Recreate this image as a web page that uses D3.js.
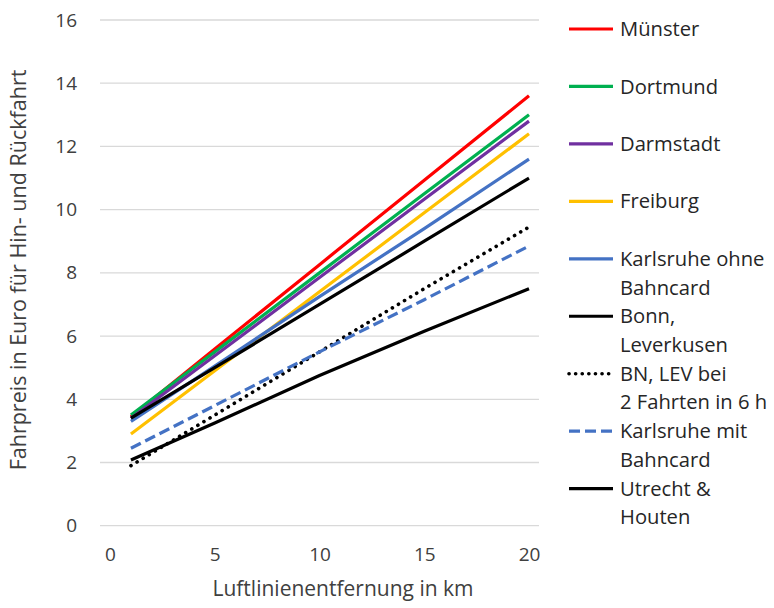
<!DOCTYPE html>
<meta charset="utf-8">
<title>Fahrpreise</title>
<style>
  html, body { margin: 0; padding: 0; background: #fff; }
  svg { display: block; font-family: "Open Sans", Lato, sans-serif; }
  .grid line { stroke: #d9d9d9; stroke-width: 1.3px; }
  .axis text { fill: #404040; font-size: 19px; font-family: "Open Sans", Lato, sans-serif; }
  .legend text { fill: #262626; font-size: 20.2px; }
  .line { fill: none; stroke-width: 3.2px; stroke-linejoin: round; }
</style>
<body>
<script src="https://d3js.org/d3.v7.min.js"></script>
<script>

// data: distance in km and price in euro for the return trip
var km = [1, 5, 10, 15, 20];

var muenster   = [3.45, 5.59, 8.26, 10.93, 13.6];
var dortmund   = [3.5, 5.5, 8.0, 10.5, 13.0];
var darmstadt  = [3.4, 5.38, 7.85, 10.33, 12.8];
var freiburg   = [2.9, 4.9, 7.4, 9.9, 12.4];
var karlsOhne  = [3.3, 5.05, 7.25, 9.4, 11.6];
var bonnLev    = [3.4, 5.0, 7.0, 9.0, 11.0];
var bnLev2     = [1.9, 3.5, 5.5, 7.5, 9.45];
var karlsMit   = [2.45, 3.8, 5.5, 7.15, 8.85];
var utrecht    = [2.08, 3.25, 4.75, 6.15, 7.5];

var names = ["Münster", "Dortmund", "Darmstadt", "Freiburg", "Karlsruhe ohne\nBahncard",
             "Bonn,\nLeverkusen", "BN, LEV bei\n2 Fahrten in 6 h", "Karlsruhe mit\nBahncard",
             "Utrecht &\nHouten"];

var xTicks = [0, 5, 10, 15, 20];
var yTicks = [0, 2, 4, 6, 8, 10, 12, 14, 16];

// styles
var colors = ["#ff0000", "#00b050", "#7030a0", "#ffc000", "#4472c4", "#000000", "#000000", "#4472c4", "#000000"];
var dashes = [null, null, null, null, null, null, "0.1 7", "11 5", null];

var series = [muenster, dortmund, darmstadt, freiburg, karlsOhne, bonnLev, bnLev2, karlsMit, utrecht]
  .map(function(vals, i) {
    return {
      name: names[i], color: colors[i], dash: dashes[i],
      values: vals.map(function(v, j) { return {x: km[j], y: v}; })
    };
  });

var width = 774, height = 608;

var x = d3.scaleLinear().domain([0, 20]).range([110, 529]);
var y = d3.scaleLinear().domain([0, 16]).range([525.7, 20]);

var svg = d3.select("body").append("svg")
    .attr("width", width)
    .attr("height", height);

// horizontal gridlines
svg.append("g")
    .attr("class", "grid")
  .selectAll("line")
  .data(yTicks)
  .enter().append("line")
    .attr("x1", x(0) - 10)
    .attr("x2", x(20) + 10)
    .attr("y1", function(d) { return y(d); })
    .attr("y2", function(d) { return y(d); });

// y axis labels
var yAxis = svg.append("g")
    .attr("class", "axis")
    .attr("transform", "translate(" + (x(0) - 10) + ",0)")
    .call(d3.axisLeft(y).tickValues(yTicks).tickSize(0).tickPadding(23));
yAxis.attr("font-family", null).attr("font-size", null);
yAxis.select(".domain").remove();

// x axis labels
var xAxis = svg.append("g")
    .attr("class", "axis")
    .attr("transform", "translate(0," + y(0) + ")")
    .call(d3.axisBottom(x).tickValues(xTicks).tickSize(0).tickPadding(22));
xAxis.attr("font-family", null).attr("font-size", null);
xAxis.select(".domain").remove();

// axis titles
svg.append("text")
    .attr("transform", "translate(26,270) rotate(-90)")
    .attr("text-anchor", "middle")
    .style("fill", "#404040")
    .style("font-size", "21.5px")
    .text("Fahrpreis in Euro für Hin- und Rückfahrt");

svg.append("text")
    .attr("x", 343)
    .attr("y", 596)
    .attr("text-anchor", "middle")
    .style("fill", "#404040")
    .style("font-size", "21px")
    .text("Luftlinienentfernung in km");

// lines
var line = d3.line()
    .x(function(d) { return x(d.x); })
    .y(function(d) { return y(d.y); });

svg.selectAll(".line")
  .data(series)
  .enter().append("path")
    .attr("class", "line")
    .attr("d", function(d) { return line(d.values); })
    .style("stroke", function(d) { return d.color; })
    .style("stroke-dasharray", function(d) { return d.dash; })
    .style("stroke-linecap", function(d) { return d.dash === "0.1 7" ? "round" : "butt"; })
    .style("stroke-width", function(d) { return d.dash === "0.1 7" ? "3.6px" : null; });

// legend
var legend = svg.append("g")
    .attr("class", "legend")
  .selectAll("g")
  .data(series)
  .enter().append("g")
    .attr("transform", function(d, i) { return "translate(569," + (29 + i * 57.45) + ")"; });

legend.append("line")
    .attr("x1", 0)
    .attr("x2", 44)
    .style("stroke", function(d) { return d.color; })
    .style("stroke-width", function(d) { return d.dash === "0.1 7" ? 3.6 : 3.2; })
    .style("stroke-dasharray", function(d) { return d.dash === "0.1 7" ? "0.1 6.5" : d.dash; })
    .style("stroke-linecap", function(d) { return d.dash === "0.1 7" ? "round" : "butt"; });

legend.append("text")
    .attr("x", 51)
  .selectAll("tspan")
  .data(function(d) { return d.name.split("\n"); })
  .enter().append("tspan")
    .attr("x", 51)
    .attr("dy", function(d, i) { return i === 0 ? "0.35em" : "28.7px"; })
    .text(function(d) { return d; });

</script>
</body>
